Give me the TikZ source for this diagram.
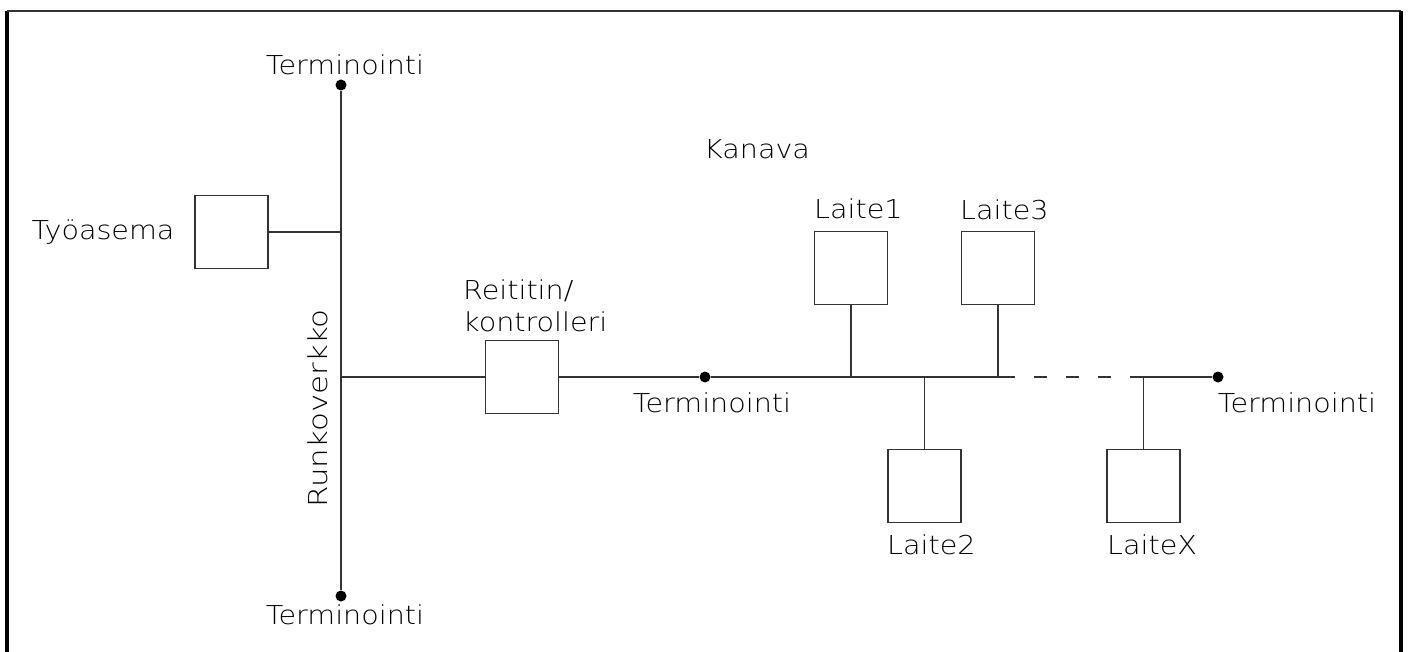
\documentclass[tikz,border=0pt]{standalone}
\usepackage{fontspec}
\setmainfont{DejaVu Sans ExtraLight}[FakeStretch=1.1]
\definecolor{linec}{HTML}{333333}
\begin{document}
\begin{tikzpicture}[x=1pt,y=-1pt,
  wire/.style={draw=linec, line width=1.9pt},
  unit/.style={draw=linec, line width=1.9pt, minimum width=73pt, minimum height=73pt, inner sep=0pt},
  term/.style={circle, fill=black, minimum size=11pt, inner sep=0pt},
  lbl/.style={font=\fontsize{26}{31}\selectfont, inner sep=0pt, text=black}]
  \useasboundingbox (0,0) rectangle (1408,652);
  \fill[white] (0,0) rectangle (1408,652);

  % frame, open at the bottom
  \draw[line width=3.5pt] (7,652) -- (7,11);
  \draw[line width=2pt, black!80] (7,11) -- (1401,11);
  \draw[line width=3.5pt] (1401,11) -- (1401,652);

  % backbone terminations
  \node[term] (tt) at (341,85) {};
  \node[term] (tb) at (341,596) {};
  \node[lbl, anchor=base] (ltt) at (345,75) {Terminointi};
  \node[lbl, anchor=base] (ltb) at (345,624) {Terminointi};
  \node[lbl, anchor=base west, rotate=90, xscale=1.08] (lrunko) at (327,508) {Runkoverkko};

  % workstation
  \node[unit] (ws) at (231.5,232) {};
  \node[lbl, anchor=base] (lws) at (103,240) {Työasema};

  % router / controller
  \node[unit] (rt) at (522,377) {};
  \node[lbl, anchor=base west] (lrt1) at (463,299) {Reititin/};
  \node[lbl, anchor=base west] (lrt2) at (463,331) {kontrolleri};

  % channel terminations
  \node[term] (tm) at (705,377) {};
  \node[lbl, anchor=base] (ltm) at (712,412) {Terminointi};
  \node[term] (te) at (1218,377) {};
  \node[lbl, anchor=base] (lte) at (1297,412) {Terminointi};
  \node[lbl, anchor=base] (lkan) at (757,159) {Kanava};

  % devices
  \node[unit] (l1) at (851,268) {};
  \node[unit] (l3) at (998,268) {};
  \node[unit] (l2) at (924.5,486) {};
  \node[unit] (lx) at (1143.5,486) {};
  \node[lbl, anchor=base west] (ll1) at (814,219) {Laite1};
  \node[lbl, anchor=base west] (ll3) at (960,220) {Laite3};
  \node[lbl, anchor=base west] (ll2) at (887,554) {Laite2};
  \node[lbl, anchor=base west] (llx) at (1107,554) {LaiteX};

  % junction points
  \coordinate (jws) at (341,232);
  \coordinate (jrt) at (341,377);
  \coordinate (j1) at (851,377);
  \coordinate (j2) at (924.5,377);
  \coordinate (j3) at (998,377);
  \coordinate (d1) at (1015,377);
  \coordinate (d2) at (1130,377);
  \coordinate (jx) at (1143.5,377);

  % connections
  \draw[wire] (tt) -- (tb);
  \draw[wire] (ws) -- (jws);
  \draw[wire] (jrt) -- (rt);
  \draw[wire] (rt) -- (tm);
  \draw[wire] (tm) -- (j1) -- (j2) -- (j3) -- (d1);
  \draw[wire, dash pattern=on 13pt off 19pt, dash phase=13pt] (d1) -- (d2);
  \draw[wire] (d2) -- (jx) -- (te);
  \draw[wire] (l1) -- (j1);
  \draw[wire] (l3) -- (j3);
  \draw[wire] (l2) -- (j2);
  \draw[wire] (lx) -- (jx);
\end{tikzpicture}
\end{document}
